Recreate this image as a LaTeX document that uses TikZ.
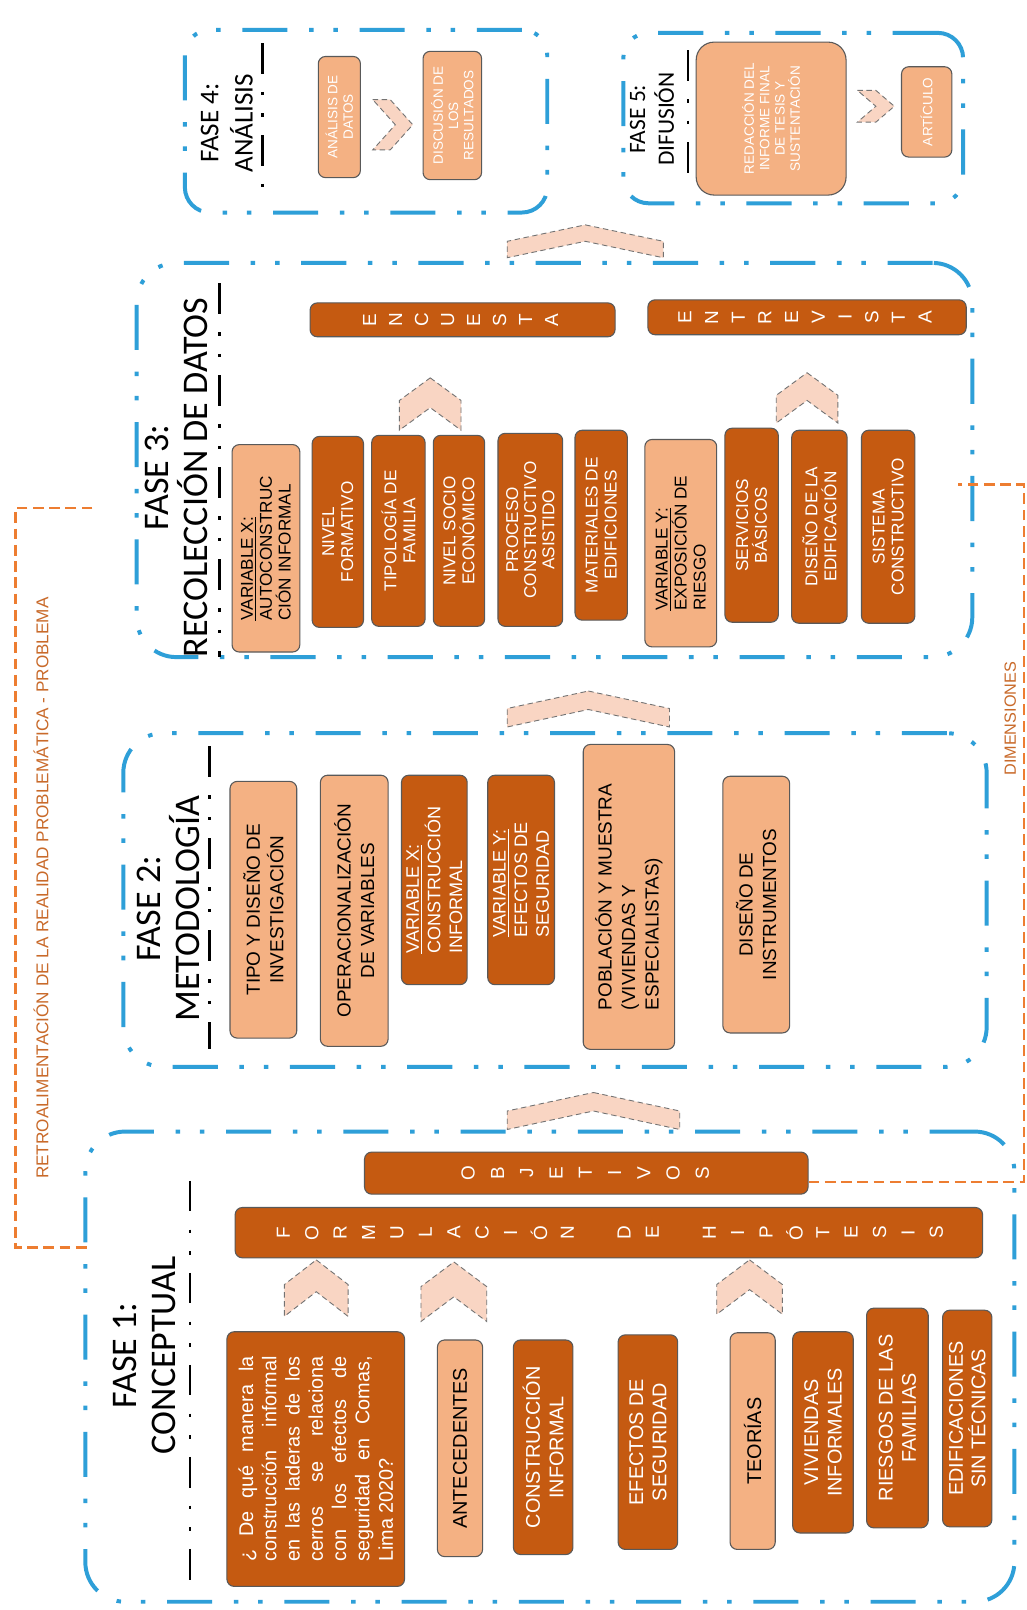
\documentclass[tikz,border=0pt]{standalone}
\usepackage{fontspec}
\setmainfont{Liberation Sans}
\setsansfont{Liberation Sans}
\newfontfamily\titlefont{Carlito}
\usetikzlibrary{positioning}

\definecolor{cafe}{HTML}{C55A11}
\definecolor{durazno}{HTML}{F4B183}
\definecolor{celeste}{HTML}{2E9FD8}
\definecolor{naranja}{HTML}{ED7D31}
\definecolor{rosado}{HTML}{F9D5C3}

\begin{document}
\begin{tikzpicture}[x=0.02cm, y=-0.02cm,
  fase/.style={rectangle, draw=celeste, line width=2.2pt, rounded corners=22pt, inner sep=0pt,
    dash pattern=on 25pt off 12pt on 2.5pt off 11pt on 2.5pt off 12pt},
  oscuro/.style={rectangle, rounded corners=4pt, draw=black!65, line width=0.6pt, fill=cafe,
    text=white, inner sep=1pt, align=center},
  claro/.style={oscuro, fill=durazno, text=black},
  claroblanco/.style={oscuro, fill=durazno, text=white, font=\fontsize{7.5}{8.5}\selectfont},
  letra/.style={text=white, rotate=90, inner sep=0pt, font=\fontsize{10.5}{10.5}\selectfont},
  titulo/.style={align=center, rotate=90, inner sep=0pt, font=\titlefont\fontsize{20}{21.5}\selectfont},
  raya/.style={line width=1.6pt, dash pattern=on 17pt off 10pt on 2pt off 10pt on 2pt off 10pt},
  flecha/.style={fill=rosado, draw=black!55, densely dashed, line width=0.5pt},
  retro/.style={draw=naranja, line width=1.3pt, dash pattern=on 6pt off 3pt}]
  \sffamily
  \def\caja#1#2#3#4#5#6#7{
    \node[#1, rotate=90, minimum width={(#6-#4)*0.02cm}, minimum height={(#5-#3)*0.02cm}] (#2) at ({(#3+#5)/2},{(#4+#6)/2}) {#7};
  }
  \def\barra#1#2#3#4#5#6#7#8{
    \node[oscuro, minimum width={(#4-#2)*0.02cm}, minimum height={(#5-#3)*0.02cm}] (#1) at ({(#2+#4)/2},{(#3+#5)/2}) {};
    \foreach \ch [count=\i from 0] in {#8}
      \node[letra] (#1-\i) at ({#6+\i*#7},{(#3+#5)/2}) {\ch};
  }
  \def\chevarriba#1#2#3#4#5{
    \draw[flecha] (#1,#2) -- ({#1+#3},{#2+#5}) -- ({#1+#3},{#2+#4}) -- (#1,{#2+#4-#5}) -- ({#1-#3},{#2+#4}) -- ({#1-#3},{#2+#5}) -- cycle;
  }
  \def\chevderecha#1#2#3#4#5{
    \draw[flecha] (#1,{#2-#4}) -- ({#1+#3-#5},{#2-#4}) -- ({#1+#3},#2) -- ({#1+#3-#5},{#2+#4}) -- (#1,{#2+#4}) -- ({#1+#5},#2) -- cycle;
  }

  \fill[white] (0,0) rectangle (1000,1568);
  \useasboundingbox (0,0) rectangle (1000,1568);

  %fases
  \node[fase, minimum width=18.1cm, minimum height=9.16cm] (fase1) at (535.5,1331) {};
  \node[fase, minimum width=16.82cm, minimum height=6.5cm] (fase2) at (540.5,876.5) {};
  \node[fase, minimum width=16.28cm, minimum height=7.68cm] (fase3) at (540,448) {};
  \node[fase, rounded corners=14pt, minimum width=7.06cm, minimum height=3.56cm] (fase4) at (356.5,118) {};
  \node[fase, rounded corners=14pt, minimum width=6.62cm, minimum height=3.32cm] (fase5) at (772.5,115) {};

  \node[titulo] (titulo1) at (141,1320) {FASE 1:\\CONCEPTUAL};
  \node[titulo] (titulo2) at (164,885) {FASE 2:\\METODOLOGÍA};
  \node[titulo] (titulo3) at (172,465) {FASE 3:\\RECOLECCIÓN DE DATOS};
  \node[titulo, font=\titlefont\fontsize{15}{19}\selectfont] (titulo4) at (221,120) {FASE 4:\\ANÁLISIS};
  \node[titulo, font=\titlefont\fontsize{13}{16}\selectfont] (titulo5) at (635,116) {FASE 5:\\DIFUSIÓN};

  \draw[raya] (185,1150) -- (185,1548);
  \draw[raya] (204,727) -- (204,1022);
  \draw[raya] (214,276) -- (214,640);
  \draw[raya] (256,42) -- (256,192);
  \draw[raya] (670,49) -- (670,172);

  %flechas entre fases
  \chevarriba{578}{1064}{84}{36}{18}
  \chevarriba{573}{673}{79}{35}{17}
  \chevarriba{570}{219}{76}{32}{16}

  %FASE 1
  \barra{formulacion}{229}{1176}{957}{1225}{276}{27.65}{F,O,R,M,U,L,A,C,I,Ó,N,~,D,E,~,H,I,P,Ó,T,E,S,I,S}
  \barra{objetivos}{355}{1122}{787}{1163}{456}{28.5}{O,B,J,E,T,I,V,O,S}

  \chevarriba{308}{1227}{31}{55}{24}
  \chevarriba{442}{1229}{32}{58}{24}
  \chevarriba{730}{1227}{32}{53}{24}

  \caja{oscuro, align=justify, text width=4cm, font=\fontsize{11}{12.9}\selectfont}{pregunta}{221}{1297}{394}{1545}{¿ De qué manera la\linebreak construcción informal\linebreak en las laderas de los\linebreak cerros se relaciona\linebreak con los efectos de\linebreak seguridad en Comas,\linebreak Lima 2020?}
  \caja{claro, font=\fontsize{11}{13}\selectfont}{antecedentes}{426}{1305}{470}{1516}{ANTECEDENTES}
  \caja{oscuro, font=\fontsize{11}{13}\selectfont}{construccion}{500}{1305}{558}{1514}{CONSTRUCCIÓN\\INFORMAL}
  \caja{oscuro, font=\fontsize{11}{13}\selectfont}{efectos}{602}{1300}{660}{1509}{EFECTOS DE\\SEGURIDAD}
  \caja{claro, font=\fontsize{11}{13}\selectfont}{teorias}{711}{1298}{755}{1509}{TEORÍAS}
  \caja{oscuro, font=\fontsize{11}{13}\selectfont}{viviendas}{772}{1297}{831}{1493}{VIVIENDAS\\INFORMALES}
  \caja{oscuro, font=\fontsize{11}{13}\selectfont}{riesgos}{844}{1274}{904}{1488}{RIESGOS DE LAS\\FAMILIAS}
  \caja{oscuro, font=\fontsize{11}{12.5}\selectfont}{edificaciones}{918}{1276}{966}{1487}{EDIFICACIONES\\SIN TÉCNICAS}

  %FASE 2
  \caja{claro, font=\fontsize{10.5}{13}\selectfont}{tipo}{224}{761}{289}{1011}{TIPO Y DISEÑO DE\\INVESTIGACIÓN}
  \caja{claro, font=\fontsize{10.5}{13}\selectfont}{operacionalizacion}{312}{755}{378}{1019}{OPERACIONALIZACIÓN\\DE VARIABLES}
  \caja{oscuro, align=left, font=\fontsize{10}{12}\selectfont}{varx}{391}{755}{455}{959}{\underline{VARIABLE X:}\\CONSTRUCCIÓN\\INFORMAL}
  \caja{oscuro, align=left, font=\fontsize{10}{12}\selectfont}{vary}{475}{755}{540}{959}{\underline{VARIABLE Y:}\\EFECTOS DE\\SEGURIDAD}
  \caja{claro, align=left, font=\fontsize{10.5}{13}\selectfont}{poblacion}{568}{725}{657}{1022}{POBLACIÓN Y MUESTRA\\(VIVIENDAS Y\\ESPECIALISTAS)}
  \caja{claro, font=\fontsize{10.5}{13}\selectfont}{instrumentos}{704}{756}{769}{1006}{DISEÑO DE\\INSTRUMENTOS}

  %FASE 3
  \barra{encuesta}{302}{295}{599}{328}{360}{25.3}{E,N,C,U,E,S,T,A}
  \barra{entrevista}{631}{292}{941}{326}{667}{26}{E,N,T,R,E,V,I,S,T,A}

  \chevarriba{419}{368}{30}{51}{22}
  \chevarriba{786}{363}{30}{49}{22}

  \caja{claro, align=left, font=\fontsize{9.5}{10.5}\selectfont}{autoconstruccion}{226}{433}{292}{635}{\underline{VARIABLE X:}\\AUTOCONSTRUC\\CIÓN INFORMAL}
  \caja{oscuro, font=\fontsize{9.5}{10.5}\selectfont}{formativo}{304}{425}{354}{611}{NIVEL\\FORMATIVO}
  \caja{oscuro, font=\fontsize{9.5}{10.5}\selectfont}{tipologia}{362}{424}{414}{610}{TIPOLOGÍA DE\\FAMILIA}
  \caja{oscuro, font=\fontsize{9.5}{10.5}\selectfont}{socio}{422}{424}{472}{610}{NIVEL SOCIO\\ECONÓMICO}
  \caja{oscuro, font=\fontsize{9.5}{10}\selectfont}{proceso}{485}{422}{548}{610}{PROCESO\\CONSTRUCTIVO\\ASISTIDO}
  \caja{oscuro, font=\fontsize{9.5}{10.5}\selectfont}{materiales}{560}{419}{611}{604}{MATERIALES DE\\EDIFICIONES}
  \caja{claro, align=left, font=\fontsize{9.5}{10.5}\selectfont}{exposicion}{628}{428}{698}{630}{\underline{VARIABLE Y:}\\EXPOSICIÓN DE\\RIESGO}
  \caja{oscuro, font=\fontsize{9.5}{10.5}\selectfont}{servicios}{706}{417}{758}{606}{SERVICIOS\\BÁSICOS}
  \caja{oscuro, font=\fontsize{9.5}{10.5}\selectfont}{diseno}{771}{419}{825}{607}{DISEÑO DE LA\\EDIFICACIÓN}
  \caja{oscuro, font=\fontsize{9.5}{10.5}\selectfont}{sistema}{839}{419}{891}{607}{SISTEMA\\CONSTRUCTIVO}

  %FASE 4 y 5
  \caja{claroblanco}{analisis}{310}{55}{351}{173}{ANÁLISIS DE\\DATOS}
  \caja{claroblanco}{discusion}{412}{50}{469}{175}{DISCUSIÓN DE\\LOS\\RESULTADOS}
  \chevderecha{363}{121.5}{39}{24.5}{22}
  \caja{claroblanco, rounded corners=10pt}{informe}{678}{41}{824}{190}{REDACCIÓN DEL\\INFORME FINAL\\DE TESIS Y\\SUSTENTACIÓN}
  \caja{claroblanco}{articulo}{878}{65}{927}{153}{ARTÍCULO}
  \chevderecha{835}{103.5}{36}{15.5}{18}

  %retroalimentacion
  \coordinate (retro1) at (90,495);
  \coordinate (retro2) at (85,1215);
  \draw[retro] (retro1) -- ++(-75,0) |- (retro2);
  \node[rotate=90, text=naranja!85!black, font=\fontsize{9.5}{10}\selectfont] (retrotexto) at (40,865) {RETROALIMENTACIÓN DE LA REALIDAD PROBLEMÁTICA - PROBLEMA};

  %dimensiones
  \coordinate (dimfin) at (933,472);
  \draw[retro] ([yshift=-5pt]objetivos.east) -| (997,472) -- (dimfin);
  \node[rotate=90, text=naranja!85!black, font=\fontsize{9}{10}\selectfont] (dimensiones) at (984,700) {DIMENSIONES};
\end{tikzpicture}
\end{document}
